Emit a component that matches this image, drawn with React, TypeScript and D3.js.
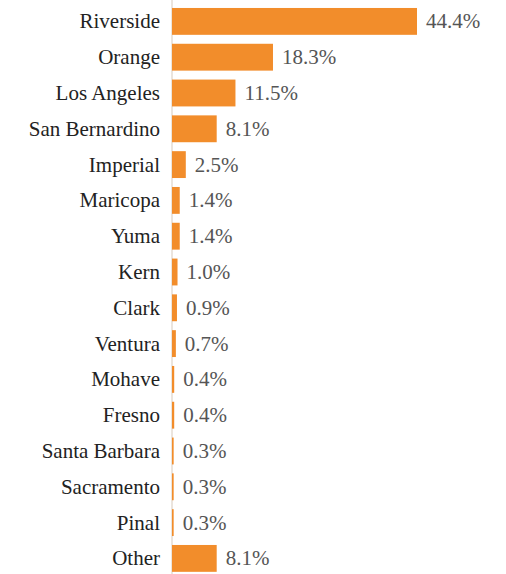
import React, { useEffect, useRef } from "react";
import * as d3 from "d3";

const categories = [
  "Riverside", "Orange", "Los Angeles", "San Bernardino", "Imperial", "Maricopa",
  "Yuma", "Kern", "Clark", "Ventura", "Mohave", "Fresno", "Santa Barbara",
  "Sacramento", "Pinal", "Other",
];
const values = [44.4, 18.3, 11.5, 8.1, 2.5, 1.4, 1.4, 1.0, 0.9, 0.7, 0.4, 0.4, 0.3, 0.3, 0.3, 8.1];

const W = 506;
const H = 574;
const X0 = 172;

export default function App() {
  const ref = useRef<SVGSVGElement>(null);
  useEffect(() => {
    const svg = d3.select(ref.current);
    svg.selectAll("*").remove();
    const x = d3.scaleLinear().domain([0, 44.4]).range([X0, 417]);
    const y = d3
      .scaleBand<string>()
      .domain(categories)
      .range([3.5, 576.3])
      .paddingInner(0.25)
      .paddingOuter(0.125);
    const bw = y.bandwidth();
    svg
      .append("line")
      .attr("x1", X0)
      .attr("x2", X0)
      .attr("y1", 0)
      .attr("y2", H)
      .attr("stroke", "#d6cabd")
      .attr("stroke-width", 1);
    const data = categories.map((c, i) => ({ c, v: values[i] }));
    const g = svg.selectAll("g.row").data(data).enter().append("g").attr("class", "row");
    g.append("rect")
      .attr("x", X0)
      .attr("y", (d) => y(d.c)!)
      .attr("width", (d) => x(d.v) - X0)
      .attr("height", bw)
      .attr("fill", "#F28D2B");
    g.append("text")
      .attr("x", 160)
      .attr("y", (d) => y(d.c)! + bw / 2 + 7)
      .attr("text-anchor", "end")
      .attr("font-family", "Liberation Serif")
      .attr("font-size", 21)
      .attr("fill", "#222")
      .text((d) => d.c);
    g.append("text")
      .attr("x", (d) => x(d.v) + 9)
      .attr("y", (d) => y(d.c)! + bw / 2 + 7)
      .attr("font-family", "Liberation Serif")
      .attr("font-size", 21)
      .attr("fill", "#555")
      .text((d) => d.v.toFixed(1) + "%");
  }, []);
  return (
    <svg
      ref={ref}
      width={W}
      height={H}
      style={{ position: "absolute", left: 0, top: 0 }}
    />
  );
}
